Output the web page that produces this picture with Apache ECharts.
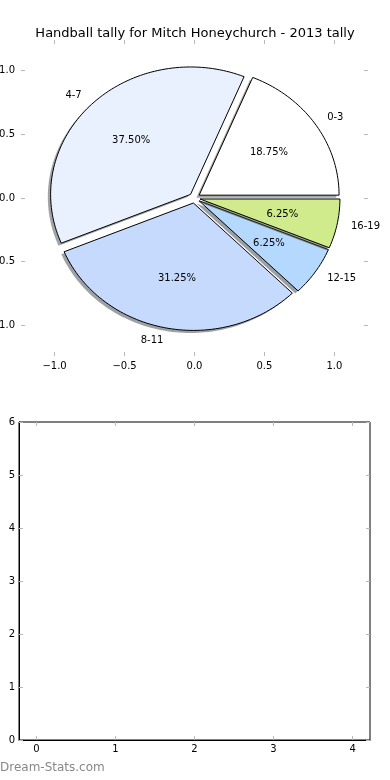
<!DOCTYPE html>
<html>
<head>
<meta charset="utf-8">
<script src="https://cdn.jsdelivr.net/npm/echarts@6/dist/echarts.min.js"></script>
<style>
html,body{margin:0;padding:0;background:#fff;}
#chart{width:390px;height:780px;}
</style>
</head>
<body>
<div id="chart"></div>
<script>
// ---- data ----
const titleText = 'Handball tally for Mitch Honeychurch - 2013 tally';
const categories = ['0-3', '4-7', '8-11', '12-15', '16-19'];
const tallies = [3, 6, 5, 1, 1];
const pieTicks = [-1.0, -0.5, 0.0, 0.5, 1.0];
const lowerXTicks = [0, 1, 2, 3, 4];
const lowerYTicks = [0, 1, 2, 3, 4, 5, 6];
const watermark = 'Dream-Stats.com';

// ---- style ----
const sliceColors = ['#ffffff', '#e9f1fe', '#c5dafd', '#b5d8ff', '#cfeb8b'];
const explodeAmt = 0.04;
const FONT = 'DejaVu Sans';

const total = tallies.reduce((a, b) => a + b, 0);
let acc = 0;
const wedgeData = tallies.map((v, i) => {
  const s = acc / total * 360;
  acc += v;
  const e = acc / total * 360;
  return [i, s, e, v];
});

function shade(hex) {
  const r = parseInt(hex.slice(1, 3), 16), g = parseInt(hex.slice(3, 5), 16), b = parseInt(hex.slice(5, 7), 16);
  return 'rgba(' + Math.round(r * 0.3) + ',' + Math.round(g * 0.3) + ',' + Math.round(b * 0.3) + ',0.5)';
}

function wedgePts(api, s, e, dx, dy) {
  const mid = (s + e) / 2 * Math.PI / 180;
  const cx = explodeAmt * Math.cos(mid) + dx, cy = explodeAmt * Math.sin(mid) + dy;
  const pts = [api.coord([cx, cy])];
  const n = Math.max(2, Math.ceil((e - s) / 1.5));
  for (let k = 0; k <= n; k++) {
    const a = (s + (e - s) * k / n) * Math.PI / 180;
    pts.push(api.coord([cx + Math.cos(a), cy + Math.sin(a)]));
  }
  return pts;
}

const fmtMinus = v => (v < 0 ? '\u2212' : '') + Math.abs(v).toFixed(1);

const tickStyle = { show: true, inside: true, length: 4, lineStyle: { color: '#b8b8b8', width: 1 } };
const noLine = { show: false, onZero: false };
const blackLine = { show: true, onZero: false, lineStyle: { color: '#000', width: 1 } };

const chart = echarts.init(document.getElementById('chart'), null, { renderer: 'canvas' });
chart.setOption({
  animation: false,
  backgroundColor: '#ffffff',
  title: {
    text: titleText, left: 'center', top: 22,
    textStyle: { fontFamily: FONT, fontSize: 13, fontWeight: 'normal', color: '#000' }
  },
  graphic: [{
    type: 'text', left: 0, top: 762,
    style: { text: watermark, fontFamily: FONT, fontSize: 12, fontWeight: 'normal', fill: '#888888' }
  }],
  grid: [
    { left: 21, right: 22, top: 40, bottom: 424, show: false, containLabel: false, outerBoundsMode: 'none' },
    { left: 19, right: 20, top: 422, bottom: 40, show: true, borderColor: '#000', borderWidth: 1,
      backgroundColor: 'transparent', containLabel: false, outerBoundsMode: 'none' }
  ],
  xAxis: [
    { gridIndex: 0, type: 'value', min: -1.24, max: 1.24, position: 'bottom',
      axisLine: noLine, splitLine: { show: false },
      axisTick: Object.assign({ customValues: pieTicks }, tickStyle),
      axisLabel: { customValues: pieTicks, formatter: fmtMinus, fontFamily: FONT, fontSize: 10, color: '#000', margin: 5 } },
    { gridIndex: 0, type: 'value', min: -1.24, max: 1.24, position: 'top',
      axisLine: noLine, splitLine: { show: false },
      axisTick: Object.assign({ customValues: pieTicks }, tickStyle),
      axisLabel: { show: false } },
    { gridIndex: 1, type: 'value', min: -0.22, max: 4.22, position: 'bottom',
      axisLine: blackLine, splitLine: { show: false },
      axisTick: Object.assign({ customValues: lowerXTicks }, tickStyle),
      axisLabel: { customValues: lowerXTicks, fontFamily: FONT, fontSize: 10, color: '#000', margin: 4 } },
    { gridIndex: 1, type: 'value', min: -0.22, max: 4.22, position: 'top',
      axisLine: noLine, splitLine: { show: false },
      axisTick: Object.assign({ customValues: lowerXTicks }, tickStyle),
      axisLabel: { show: false } }
  ],
  yAxis: [
    { gridIndex: 0, type: 'value', min: -1.24, max: 1.24, position: 'left',
      axisLine: noLine, splitLine: { show: false },
      axisTick: Object.assign({ customValues: pieTicks }, tickStyle),
      axisLabel: { customValues: pieTicks, formatter: fmtMinus, fontFamily: FONT, fontSize: 10, color: '#000', margin: 6 } },
    { gridIndex: 0, type: 'value', min: -1.24, max: 1.24, position: 'right',
      axisLine: noLine, splitLine: { show: false },
      axisTick: Object.assign({ customValues: pieTicks }, tickStyle),
      axisLabel: { show: false } },
    { gridIndex: 1, type: 'value', min: 0, max: 6, interval: 1, position: 'left',
      axisLine: blackLine, splitLine: { show: false },
      axisTick: Object.assign({ customValues: lowerYTicks }, tickStyle),
      axisLabel: { customValues: lowerYTicks, fontFamily: FONT, fontSize: 10, color: '#000', margin: 4 } },
    { gridIndex: 1, type: 'value', min: 0, max: 6, interval: 1, position: 'right',
      axisLine: noLine, splitLine: { show: false },
      axisTick: Object.assign({ customValues: lowerYTicks }, tickStyle),
      axisLabel: { show: false } }
  ],
  series: [
    {
      type: 'custom', xAxisIndex: 0, yAxisIndex: 0, clip: false, z: 2,
      data: wedgeData,
      renderItem: function (params, api) {
        const i = api.value(0), s = api.value(1), e = api.value(2);
        const col = sliceColors[i];
        return {
          type: 'group',
          children: [
            { type: 'polygon', shape: { points: wedgePts(api, s, e, -0.02, -0.02) },
              style: { fill: shade(col), stroke: null } },
            { type: 'polygon', shape: { points: wedgePts(api, s, e, 0, 0) },
              style: { fill: col, stroke: '#000', lineWidth: 1, lineJoin: 'miter' } }
          ]
        };
      }
    },
    {
      type: 'custom', xAxisIndex: 0, yAxisIndex: 0, clip: false, z: 5,
      data: wedgeData,
      renderItem: function (params, api) {
        const i = api.value(0), s = api.value(1), e = api.value(2), v = api.value(3);
        const mid = (s + e) / 2 * Math.PI / 180;
        const c = Math.cos(mid), sn = Math.sin(mid);
        const lp = api.coord([(1.1 + explodeAmt) * c, (1.1 + explodeAmt) * sn]);
        const pp = api.coord([(0.6 + explodeAmt) * c, (0.6 + explodeAmt) * sn]);
        return {
          type: 'group',
          children: [
            { type: 'text', x: lp[0], y: lp[1],
              style: { text: categories[i], fill: '#000', fontFamily: FONT, fontSize: 10,
                       align: c > 0 ? 'left' : 'right', verticalAlign: 'middle' } },
            { type: 'text', x: pp[0], y: pp[1],
              style: { text: (v / total * 100).toFixed(2) + '%', fill: '#000', fontFamily: FONT, fontSize: 10,
                       align: 'center', verticalAlign: 'middle' } }
          ]
        };
      }
    },
    { type: 'scatter', xAxisIndex: 2, yAxisIndex: 2, data: [], silent: true }
  ]
});
</script>
</body>
</html>
